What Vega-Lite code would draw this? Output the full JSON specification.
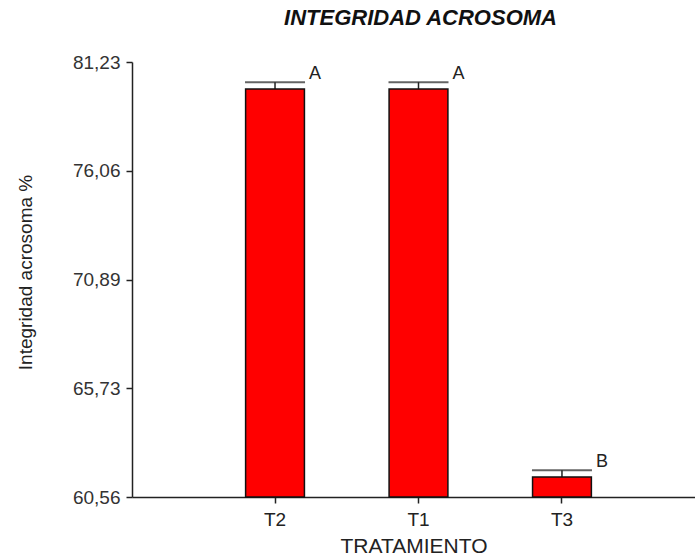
{
  "$schema": "https://vega.github.io/schema/vega-lite/v6.json",
  "width": 563,
  "height": 435,
  "autosize": {"type": "none"},
  "padding": {"left": 132, "top": 62, "right": 0, "bottom": 59},
  "background": "white",
  "config": {
    "font": "Liberation Sans",
    "view": {"stroke": null}
  },
  "title": {
    "text": "INTEGRIDAD ACROSOMA",
    "fontSize": 22,
    "fontWeight": "bold",
    "fontStyle": "italic",
    "color": "#111",
    "anchor": "middle",
    "dx": 7,
    "offset": 23
  },
  "data": {
    "values": [
      {"tratamiento": "T2", "media": 79.95, "ee": 0.32, "grupo": "A"},
      {"tratamiento": "T1", "media": 79.95, "ee": 0.32, "grupo": "A"},
      {"tratamiento": "T3", "media": 61.51, "ee": 0.32, "grupo": "B"}
    ]
  },
  "transform": [{"calculate": "datum.media + datum.ee", "as": "sup"}],
  "encoding": {
    "x": {
      "field": "tratamiento",
      "type": "nominal",
      "sort": ["T2", "T1", "T3"],
      "scale": {"paddingInner": 0.59, "paddingOuter": 0.757, "align": 0.523},
      "axis": {
        "title": "TRATAMIENTO",
        "titleFontSize": 21,
        "titleFontWeight": "normal",
        "titleColor": "#222",
        "titlePadding": 6,
        "labelAngle": 0,
        "labelFontSize": 19,
        "labelColor": "#222",
        "labelPadding": 7,
        "tickSize": 6,
        "tickColor": "#222",
        "tickWidth": 1.5,
        "domainColor": "#222",
        "domainWidth": 1.5
      }
    }
  },
  "layer": [
    {
      "mark": {"type": "rule", "color": "#222", "strokeWidth": 1.5},
      "encoding": {
        "y": {"field": "media", "type": "quantitative"},
        "y2": {"field": "sup"}
      }
    },
    {
      "mark": {"type": "tick", "color": "#222", "thickness": 2, "size": 60},
      "encoding": {
        "y": {"field": "sup", "type": "quantitative"}
      }
    },
    {
      "mark": {"type": "bar", "fill": "#ff0000", "stroke": "#111", "strokeWidth": 1.5},
      "encoding": {
        "y": {
          "field": "media",
          "type": "quantitative",
          "scale": {"domain": [60.56, 81.23], "nice": false, "zero": false},
          "axis": {
            "title": "Integridad acrosoma %",
            "titleFontSize": 19,
            "titleFontWeight": "normal",
            "titleColor": "#222",
            "titleX": -107,
            "titleY": 210,
            "titleBaseline": "middle",
            "values": [60.56, 65.73, 70.89, 76.06, 81.23],
            "labelExpr": "replace(format(datum.value, '.2f'), '.', ',')",
            "labelFontSize": 19,
            "labelColor": "#333",
            "labelPadding": 6,
            "tickSize": 6,
            "tickColor": "#222",
            "tickWidth": 1.5,
            "domainColor": "#222",
            "domainWidth": 1.5,
            "grid": false
          }
        },
        "y2": {"datum": 60.56}
      }
    },
    {
      "mark": {"type": "text", "align": "left", "baseline": "bottom", "dx": 34, "dy": 1, "fontSize": 18, "color": "#222"},
      "encoding": {
        "y": {"field": "sup", "type": "quantitative"},
        "text": {"field": "grupo"}
      }
    }
  ]
}
